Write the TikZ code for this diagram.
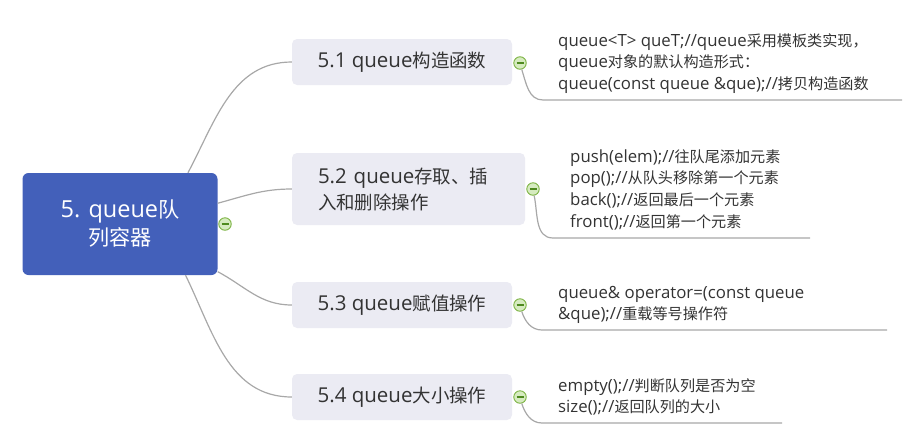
\documentclass[tikz,border=0pt]{standalone}
\usepackage{fontspec}
\setmainfont{Open Sans}
\newfontfamily\cjkFont{Noto Sans CJK SC}[Scale=0.9]
\usetikzlibrary{positioning}
\definecolor{rootblue}{HTML}{4360BA}
\definecolor{topicgray}{HTML}{EBEBF3}
\definecolor{linkgray}{HTML}{A8A8A8}
\definecolor{textgray}{HTML}{333333}
\definecolor{foldgreen}{HTML}{7CB342}
\definecolor{foldfill}{HTML}{D6EBC0}
\definecolor{foldminus}{HTML}{4E8A1E}
\newcommand{\leafFont}[0]{\fontsize{16.8pt}{21.7pt}\selectfont}
\newcommand{\zh}[1]{{\cjkFont #1}}

\begin{document}
\begin{tikzpicture}[x=1pt, y=1pt]
  \tikzset{rootbox/.style={fill=rootblue, rounded corners=6pt, text=white, align=center,
             minimum width=195pt, minimum height=102pt, inner sep=0pt,
             font=\fontsize{23.5pt}{28pt}\selectfont},
           topic/.style={fill=topicgray, rounded corners=5pt, text=textgray,
             minimum width=220pt, minimum height=46pt, inner sep=0pt,
             font=\fontsize{20.5pt}{26pt}\selectfont},
           leaf/.style={anchor=west, align=left, inner sep=0pt, text=textgray, font=\leafFont},
           link/.style={draw=linkgray, line width=1.2pt},
           fold/.style={circle, draw=foldgreen, fill=foldfill, line width=0.9pt,
             minimum size=12.5pt, inner sep=0pt,
             path picture={\draw[foldminus, line width=1.2pt]
               ([xshift=-3.5pt]path picture bounding box.center) --
               ([xshift=3.5pt]path picture bounding box.center);}}}
  \useasboundingbox (0,0) rectangle (912,-437);

  % main topic
  \node[rootbox] (root) at (120,-224) {5. queue\zh{队}\\\zh{列容器}};
  \node[fold] (m0) at (225,-224) {};

  % subtopics
  \node[topic] (b1) at (402,-62) {5.1 queue\zh{构造函数}};
  \node[topic, minimum width=233pt, minimum height=72pt, align=left,
        text width=181pt, inner xsep=26pt] (b2) at (408.5,-189) {5.2 queue\zh{存取、插}\\\zh{入和删除操作}};
  \node[topic] (b3) at (402,-305) {5.3 queue\zh{赋值操作}};
  \node[topic] (b4) at (402,-397) {5.4 queue\zh{大小操作}};

  \draw[link] (root.37) to[out=62, in=180] (b1.west);
  \draw[link] (root.12) to[out=15, in=180] (b2.west);
  \draw[link] (root.-26) to[out=-28, in=180] (b3.west);
  \draw[link] (root.-38) to[out=-64, in=180] (b4.west);

  % details
  \node[leaf] (l1) at (558,-63.5) {queue<T> queT;//queue\zh{采用模板类实现，}\\queue\zh{对象的默认构造形式：}\\queue(const queue \&que);//\zh{拷贝构造函数}};
  \node[leaf] (l2) at (570,-189.5) {push(elem);//\zh{往队尾添加元素}\\pop();//\zh{从队头移除第一个元素}\\back();//\zh{返回最后一个元素}\\front();//\zh{返回第一个元素}};
  \node[leaf] (l3) at (558,-305) {queue\& operator=(const queue\\\&que);//\zh{重载等号操作符}};
  \node[leaf] (l4) at (558,-397) {empty();//\zh{判断队列是否为空}\\size();//\zh{返回队列的大小}};

  \coordinate (u1s) at (543,-100);  \coordinate (u1e) at (902,-100);
  \coordinate (u2s) at (553,-238);  \coordinate (u2e) at (810,-238);
  \coordinate (u3s) at (542,-330);  \coordinate (u3e) at (887,-330);
  \coordinate (u4s) at (542,-423);  \coordinate (u4e) at (782,-423);

  \node[fold] (m1) at (520,-63) {};
  \node[fold] (m2) at (533,-189) {};
  \node[fold] (m3) at (520,-305) {};
  \node[fold] (m4) at (520,-397) {};

  \draw[link] (m1.-75) to[out=-72, in=180] (u1s) -- (u1e);
  \draw[link] (m2.-80) to[out=-78, in=180] (u2s) -- (u2e);
  \draw[link] (m3.-75) to[out=-72, in=180] (u3s) -- (u3e);
  \draw[link] (m4.-75) to[out=-72, in=180] (u4s) -- (u4e);
\end{tikzpicture}
\end{document}
